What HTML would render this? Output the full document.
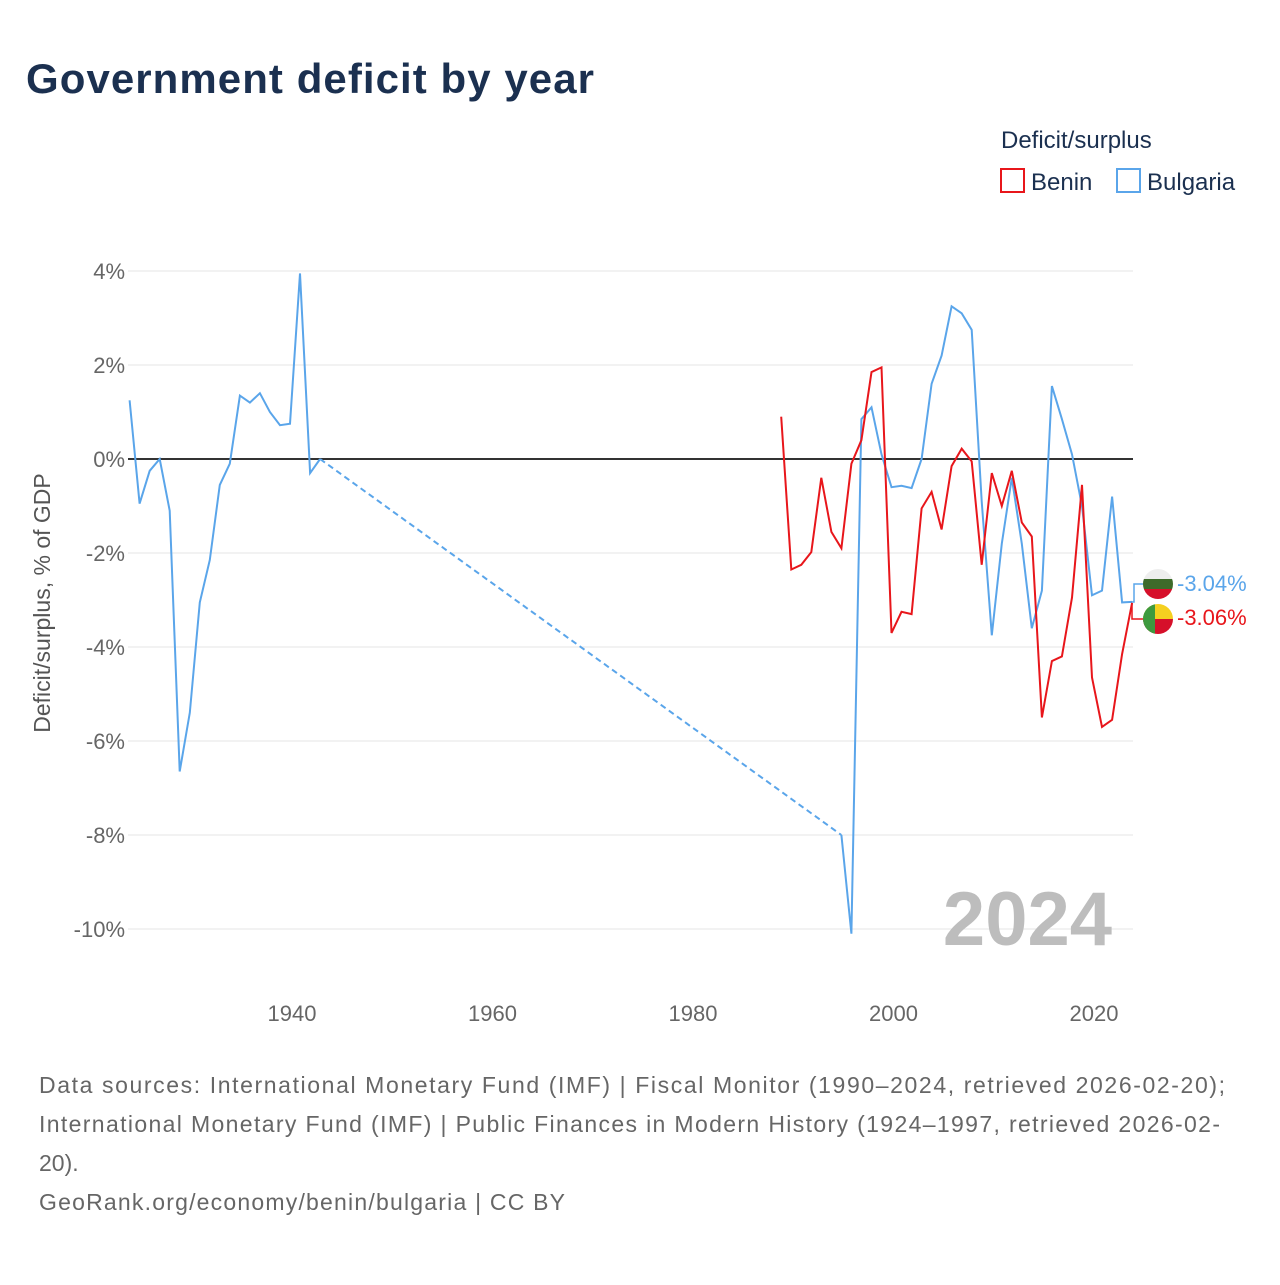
<!DOCTYPE html>
<html><head><meta charset="utf-8"><style>
body{margin:0;background:#fff;font-family:"Liberation Sans",sans-serif;}
svg text{font-family:"Liberation Sans",sans-serif;}
</style></head><body>
<svg id="chart" width="1280" height="1280">
<text x="26" y="93" font-size="42" font-weight="bold" fill="#1b3050" textLength="568">Government deficit by year</text>
<text x="1001" y="148" font-size="24" fill="#1b3050">Deficit/surplus</text>
<g><rect x="1001" y="169" width="23" height="23" fill="none" stroke="#e8161b" stroke-width="2"/><text x="1031" y="190" font-size="24" fill="#1b3050">Benin</text></g>
<g><rect x="1117" y="169" width="23" height="23" fill="none" stroke="#5aa5ea" stroke-width="2"/><text x="1147" y="190" font-size="24" fill="#1b3050">Bulgaria</text></g>
<g id="grid"></g><g id="yt"></g><g id="xt"></g>
<text transform="translate(50,603) rotate(-90)" text-anchor="middle" font-size="23" fill="#555">Deficit/surplus, % of GDP</text>
<text x="1112" y="945" text-anchor="end" font-size="76" font-weight="bold" fill="#bdbdbd">2024</text>
<g id="series"></g>
<path d="M1132 602 L1134 602 L1134 584 L1143 584" fill="none" stroke="#5aa5ea" stroke-width="1.5"/>
<path d="M1132 603 L1132 619 L1143 619" fill="none" stroke="#e8161b" stroke-width="1.5"/>
<g><clipPath id="c1"><circle cx="1158" cy="584" r="15"/></clipPath><g clip-path="url(#c1)"><rect x="1143" y="569" width="30" height="10" fill="#eee"/><rect x="1143" y="579" width="30" height="10" fill="#3d6b2a"/><rect x="1143" y="589" width="30" height="10" fill="#d6102a"/></g></g>
<g><clipPath id="c2"><circle cx="1158" cy="619" r="15"/></clipPath><g clip-path="url(#c2)"><rect x="1143" y="604" width="30" height="15" fill="#f5d020"/><rect x="1143" y="619" width="30" height="15" fill="#d6102a"/><rect x="1143" y="604" width="12" height="30" fill="#3e9a3e"/></g></g>
<text x="1177" y="591" font-size="22" fill="#5aa5ea">-3.04%</text>
<text x="1177" y="625" font-size="22" fill="#e8161b">-3.06%</text>
<text font-size="23" fill="#666"><tspan x="39" y="1093" textLength="1186">Data sources: International Monetary Fund (IMF) | Fiscal Monitor (1990–2024, retrieved 2026-02-20);</tspan><tspan x="39" y="1132" textLength="1181">International Monetary Fund (IMF) | Public Finances in Modern History (1924–1997, retrieved 2026-02-</tspan><tspan x="39" y="1171">20).</tspan><tspan x="39" y="1210" textLength="526">GeoRank.org/economy/benin/bulgaria | CC BY</tspan></text>
</svg>
<script>
const yTicks=[4,2,0,-2,-4,-6,-8,-10];
const xTicks=[1940,1960,1980,2000,2020];
const bgYearsA=[1924,1925,1926,1927,1928,1929,1930,1931,1932,1933,1934,1935,1936,1937,1938,1939,1940,1941,1942,1943];
const bgValsA=[1.25,-0.95,-0.25,0,-1.1,-6.65,-5.4,-3.05,-2.15,-0.55,-0.1,1.35,1.2,1.4,1.0,0.72,0.75,3.95,-0.3,0];
const bgYearsB=[1995,1996,1997,1998,1999,2000,2001,2002,2003,2004,2005,2006,2007,2008,2009,2010,2011,2012,2013,2014,2015,2016,2017,2018,2019,2020,2021,2022,2023,2024];
const bgValsB=[-8.0,-10.1,0.85,1.1,0.1,-0.6,-0.57,-0.62,0,1.6,2.2,3.25,3.1,2.75,-0.9,-3.75,-1.8,-0.4,-1.8,-3.6,-2.8,1.55,0.85,0.1,-1.0,-2.9,-2.8,-0.8,-3.05,-3.04];
const bjYears=[1989,1990,1991,1992,1993,1994,1995,1996,1997,1998,1999,2000,2001,2002,2003,2004,2005,2006,2007,2008,2009,2010,2011,2012,2013,2014,2015,2016,2017,2018,2019,2020,2021,2022,2023,2024];
const bjVals=[0.9,-2.35,-2.25,-1.98,-0.4,-1.55,-1.9,-0.1,0.4,1.85,1.95,-3.7,-3.25,-3.3,-1.05,-0.7,-1.5,-0.15,0.22,-0.05,-2.25,-0.3,-1.0,-0.25,-1.35,-1.65,-5.5,-4.3,-4.2,-2.95,-0.55,-4.65,-5.7,-5.55,-4.15,-3.06];
const NS="http://www.w3.org/2000/svg";
const X=y=>290+(y-1940)*10.025, Y=v=>459-v*47;
function mk(t,a,p){const e=document.createElementNS(NS,t);for(const k in a)e.setAttribute(k,a[k]);p.appendChild(e);return e;}
const grid=document.getElementById('grid'),yt=document.getElementById('yt'),xt=document.getElementById('xt'),se=document.getElementById('series');
yTicks.forEach(v=>{
 const l=mk('line',{x1:128,x2:1133,y1:Y(v),y2:Y(v),stroke:v===0?'#333':'#e6e6e6','stroke-width':v===0?2:1},grid);
 
 
 const t=mk('text',{x:125,y:Y(v)+8,'text-anchor':'end','font-size':22,fill:'#666'},yt);t.textContent=v+'%';
 
 
});
xTicks.forEach(y=>{
 const t=mk('text',{x:X(y)+2,y:1021,'text-anchor':'middle','font-size':22,fill:'#666'},xt);t.textContent=y;
 
 
});
function pts(ys,vs){return ys.map((y,i)=>X(y).toFixed(1)+','+Y(vs[i]).toFixed(1)).join(' ');}
const a=mk('polyline',{points:pts(bgYearsA,bgValsA),fill:'none',stroke:'#5aa5ea','stroke-width':2},se);


const g=mk('line',{x1:X(bgYearsA[bgYearsA.length-1]),y1:Y(bgValsA[bgValsA.length-1]),x2:X(bgYearsB[0]),y2:Y(bgValsB[0]),stroke:'#5aa5ea','stroke-width':2,'stroke-dasharray':'6,4'},se);


const b=mk('polyline',{points:pts(bgYearsB,bgValsB),fill:'none',stroke:'#5aa5ea','stroke-width':2},se);


const c=mk('polyline',{points:pts(bjYears,bjVals),fill:'none',stroke:'#e8161b','stroke-width':2},se);


</script>
</body></html>
